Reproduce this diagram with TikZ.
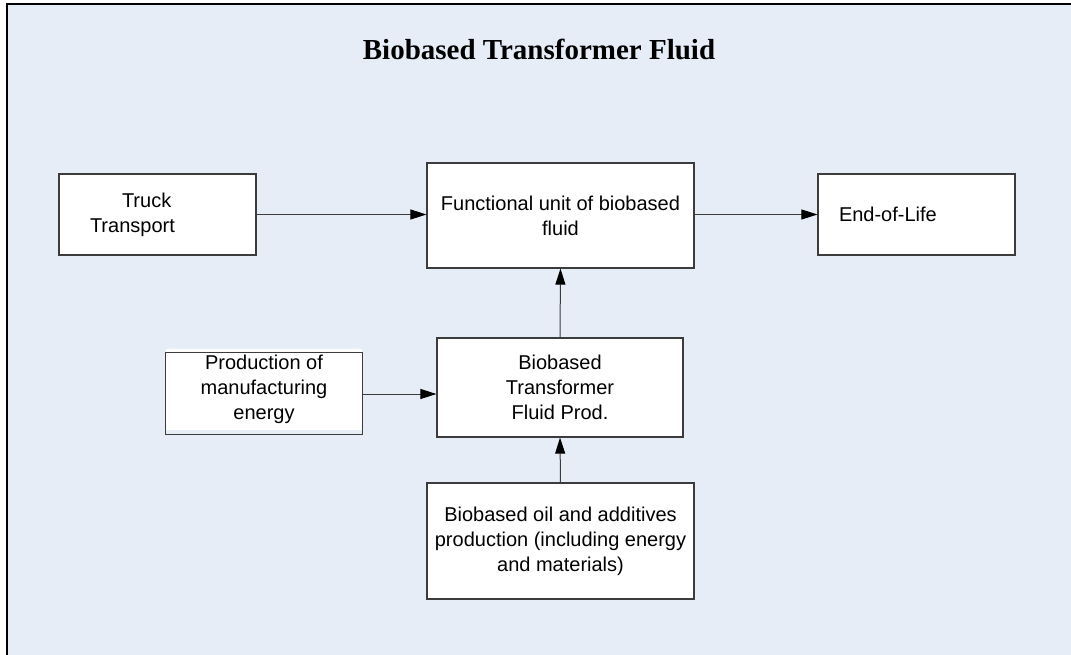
\documentclass[tikz,border=0pt]{standalone}
\usepackage{fontspec}
\setmainfont{Liberation Sans}
\newfontfamily\titlefont{Liberation Serif}
\usetikzlibrary{arrows.meta}
\definecolor{sheetbg}{HTML}{E6EDF7}
\definecolor{edgegray}{HTML}{3C3C3C}

\begin{document}
\begin{tikzpicture}[
x=1pt, y=-1pt,
>={Triangle[length=16pt,width=10pt,black]},
stagebox/.style={
draw=edgegray,
line width=1.2pt,
fill=white,
inner sep=0pt,
align=center,
font=\fontsize{20}{25}\selectfont},
flow/.style={->,line width=1pt,draw=edgegray}
]

\useasboundingbox (0,0) rectangle (1071,655);
\fill[sheetbg] (7,4) rectangle (1071,655);
\draw[line width=2pt] (7,655) -- (7,4) -- (1071,4);

\node[anchor=base,font=\titlefont\bfseries\fontsize{29}{34}\selectfont] (title) at (539,60) {Biobased Transformer Fluid};

\node[stagebox,minimum width=197pt,minimum height=81pt,text width=135pt,inner xsep=31pt,align=left] (truck) at (157.5,214.5) {\hspace*{32pt}Truck\\Transport};

\node[stagebox,minimum width=267pt,minimum height=105pt] (func) at (560.5,215.5) {Functional unit of biobased\\fluid};

\node[stagebox,minimum width=197pt,minimum height=81pt,text width=155pt,inner xsep=21pt,align=left] (eol) at (916.5,214.5) {End-of-Life};

\node[stagebox,draw=none,minimum width=196pt,minimum height=81pt] (prod) at (264,389.5) {Production of\\manufacturing\\energy};
\draw[edgegray,line width=1.2pt] ([yshift=-4pt]prod.north west) rectangle ([yshift=-4pt]prod.south east);

\node[stagebox,minimum width=246pt,minimum height=99pt] (trans) at (560,387.5) {Biobased\\Transformer\\Fluid Prod.};

\node[stagebox,minimum width=267pt,minimum height=116pt] (oil) at (560.5,541) {Biobased oil and additives\\production (including energy\\and materials)};

\draw[flow] (truck.east) -- (truck.east -| func.west);
\draw[flow] (func.east |- eol.west) -- (eol.west);
\draw[flow] (trans.north) -- (func.south);
\draw[flow] ([yshift=-4.5pt]prod.east) -- ([yshift=-4.5pt]prod.east -| trans.west);
\draw[flow] (oil.north) -- (trans.south);

\end{tikzpicture}
\end{document}
